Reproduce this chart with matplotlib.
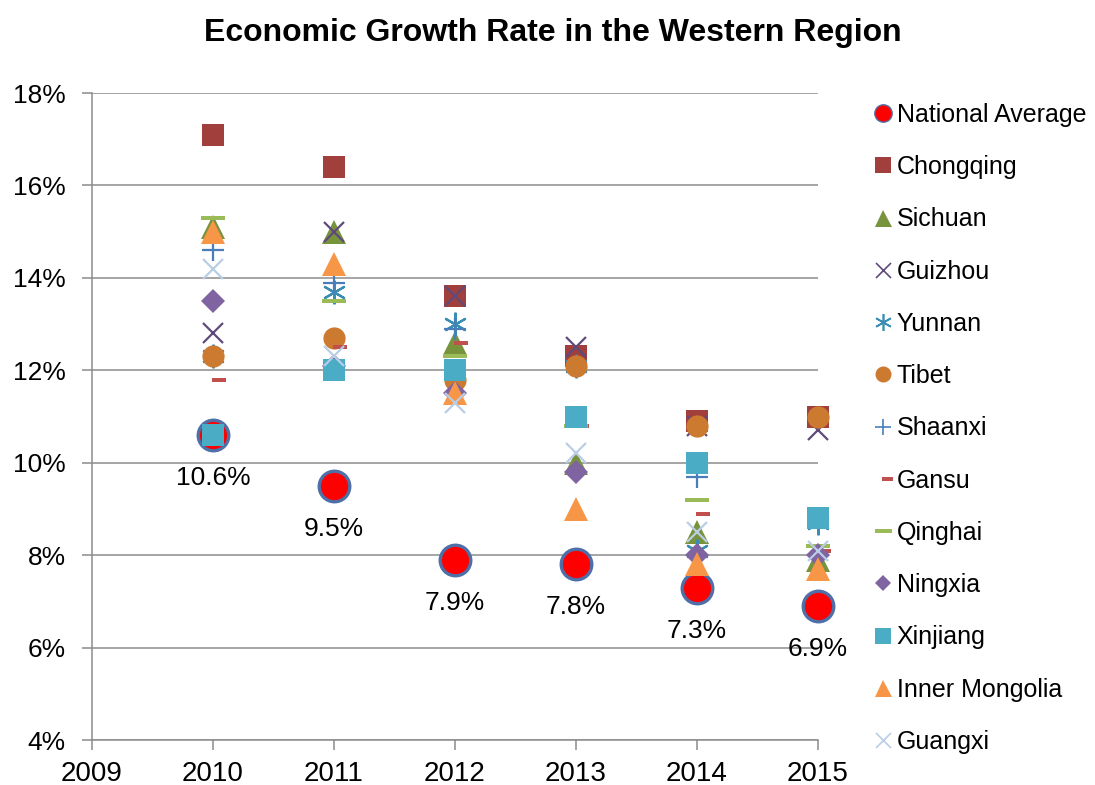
import matplotlib
matplotlib.use("Agg")
import matplotlib.pyplot as plt
import numpy as np
from matplotlib.path import Path
from matplotlib.ticker import FuncFormatter

plt.rcParams['font.family'] = ['Liberation Sans', 'DejaVu Sans']

years = [2010, 2011, 2012, 2013, 2014, 2015]

# growth rates in percent
national = [10.6, 9.5, 7.9, 7.8, 7.3, 6.9]
chongqing = [17.1, 16.4, 13.6, 12.3, 10.9, 11.0]
sichuan = [15.1, 15.0, 12.6, 10.0, 8.5, 7.9]
guizhou = [12.8, 15.0, 13.6, 12.5, 10.8, 10.7]
yunnan = [12.3, 13.7, 13.0, 12.1, 8.1, 8.7]
tibet = [12.3, 12.7, 11.8, 12.1, 10.8, 11.0]
shaanxi = [14.6, 13.9, 12.9, 11.0, 9.7, 8.0]
gansu = [11.8, 12.5, 12.6, 10.8, 8.9, 8.1]
qinghai = [15.3, 13.5, 12.3, 10.8, 9.2, 8.2]
ningxia = [13.5, 12.1, 11.5, 9.8, 8.0, 8.0]
xinjiang = [10.6, 12.0, 12.0, 11.0, 10.0, 8.8]
inner_mongolia = [15.0, 14.3, 11.5, 9.0, 7.8, 7.7]
guangxi = [14.2, 12.3, 11.3, 10.2, 8.5, 8.1]

# short dash sitting right of centre (Excel "short dash" look)
dash_right = Path([(-0.1, -0.18), (1, -0.18), (1, 0.18), (-0.1, 0.18), (-0.1, -0.18)],
                  [Path.MOVETO, Path.LINETO, Path.LINETO, Path.LINETO, Path.CLOSEPOLY])
dash_mid = Path([(-1, -0.2), (1, -0.2), (1, 0.2), (-1, 0.2), (-1, -0.2)],
                [Path.MOVETO, Path.LINETO, Path.LINETO, Path.LINETO, Path.CLOSEPOLY])

series = [
    ('National Average', national, dict(marker='o', ms=22, mfc='#FF0000', mec='#4F6FA8', mew=2.4)),
    ('Chongqing', chongqing, dict(marker='s', ms=16.5, mfc='#A03F3C', mec='#A03F3C', mew=0)),
    ('Sichuan', sichuan, dict(marker='^', ms=17, mfc='#77933C', mec='#77933C', mew=0)),
    ('Guizhou', guizhou, dict(marker='x', ms=15, mfc='none', mec='#604A7B', mew=1.6)),
    ('Yunnan', yunnan, dict(marker=(6, 2, 0), ms=17, mfc='none', mec='#3A8EB3', mew=1.6)),
    ('Tibet', tibet, dict(marker='o', ms=16, mfc='#CD7A31', mec='#CD7A31', mew=0)),
    ('Shaanxi', shaanxi, dict(marker='+', ms=16, mfc='none', mec='#4A7EBB', mew=1.6)),
    ('Gansu', gansu, dict(marker=dash_right, ms=19, mfc='#C0504D', mec='#C0504D', mew=0)),
    ('Qinghai', qinghai, dict(marker=dash_mid, ms=17, mfc='#9BBB59', mec='#9BBB59', mew=0)),
    ('Ningxia', ningxia, dict(marker='D', ms=12, mfc='#8064A2', mec='#8064A2', mew=0)),
    ('Xinjiang', xinjiang, dict(marker='s', ms=16.5, mfc='#4BACC6', mec='#4BACC6', mew=0)),
    ('Inner Mongolia', inner_mongolia, dict(marker='^', ms=17, mfc='#F79646', mec='#F79646', mew=0)),
    ('Guangxi', guangxi, dict(marker='x', ms=15, mfc='none', mec='#B9CDE5', mew=1.6)),
]

fig = plt.figure(figsize=(10.95, 7.85), dpi=100)
ax = fig.add_axes([0.084, 0.0573, 0.663, 0.8242])

for name, vals, style in series:
    ax.plot(years, vals, linestyle='none', label=name, clip_on=False, **style)

for x, v in zip(years, national):
    ax.annotate('%.1f%%' % v, (x, v), xytext=(0, -31), textcoords='offset points',
                ha='center', va='center', fontsize=19, color='black', annotation_clip=False)

grid_c = '#8C8C8C'
ax.set_xlim(2009, 2015)
ax.set_ylim(4, 18)
ax.set_xticks(np.arange(2009, 2016))
ax.set_yticks(np.arange(4, 19, 2))
ax.yaxis.set_major_formatter(FuncFormatter(lambda v, p: '%d%%' % v))
ax.grid(axis='y', color=grid_c, linewidth=1.1)
ax.set_axisbelow(True)
for s in ['top', 'right']:
    ax.spines[s].set_visible(False)
for s in ['left', 'bottom']:
    ax.spines[s].set_color(grid_c)
    ax.spines[s].set_linewidth(1.1)
ax.tick_params(axis='both', direction='out', length=7, width=1.1, color=grid_c,
               labelcolor='black')
ax.tick_params(axis='x', pad=8, labelsize=20)
ax.tick_params(axis='y', pad=12, labelsize=19)

fig.text(0.505, 0.958, 'Economic Growth Rate in the Western Region', ha='center', va='center',
         fontsize=23, fontweight='bold')

leg = fig.legend(loc='upper left', bbox_to_anchor=(0.796, 0.869), frameon=False, fontsize=18,
                 handlelength=0.9, handletextpad=0.1, labelspacing=1.13,
                 borderpad=0, borderaxespad=0, numpoints=1)
for h, (name, vals, style) in zip(leg.legend_handles, series):
    if name == 'National Average':
        h.set_markersize(12.5)
        h.set_markeredgewidth(1)
    else:
        h.set_markersize(style['ms'] * 0.72)
        if style['mew']:
            h.set_markeredgewidth(1.2)

fig.savefig('out.png', dpi=100)
